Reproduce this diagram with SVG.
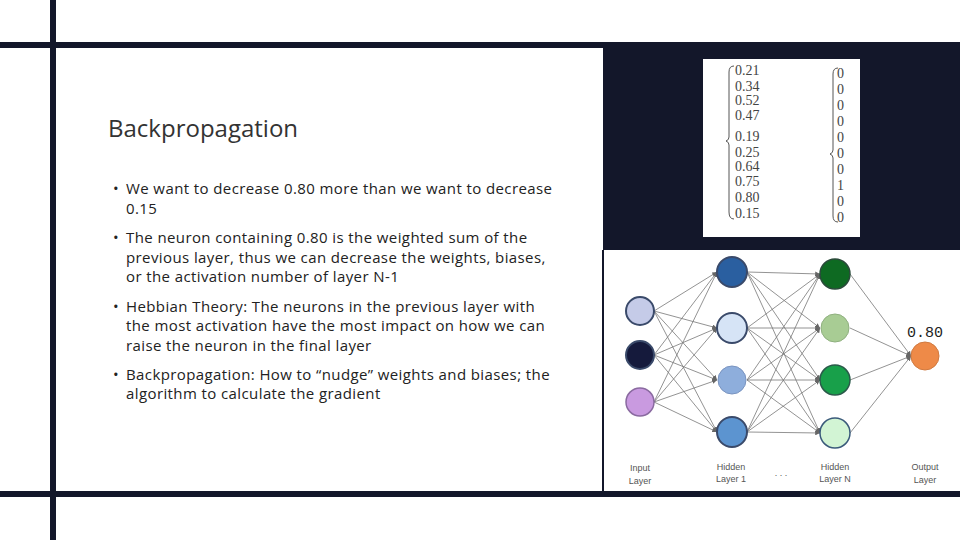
<svg xmlns="http://www.w3.org/2000/svg" width="960" height="540" viewBox="0 0 960 540">
<style>
.t{font-family:"Open Sans","Liberation Sans",sans-serif;font-size:15px;letter-spacing:0.4px;fill:#222}
.m{font-family:"Liberation Serif",serif;font-size:14px;fill:#444}
.l{font-family:"Liberation Sans",sans-serif;font-size:9px;fill:#555;text-anchor:middle}
.c line{stroke:#777;stroke-width:0.8;marker-end:url(#a)}
.n{stroke:#3a4a6a;stroke-width:2}
</style>
<defs><marker id="a" viewBox="0 0 6 6" refX="6" refY="3" markerWidth="6" markerHeight="6" orient="auto"><path d="M0,0L6,3L0,6z" fill="#666"/></marker></defs>
<rect width="960" height="540" fill="#fff"/>
<rect x="603" y="42" width="357" height="208" fill="#13172a"/>
<rect x="0" y="42" width="960" height="6" fill="#13172a"/>
<rect x="0" y="491" width="960" height="6" fill="#13172a"/>
<rect x="50" y="0" width="6" height="540" fill="#13172a"/>
<rect x="602" y="250" width="2" height="242" fill="#13172a"/>
<text x="108" y="137" font-family="'Open Sans','Liberation Sans',sans-serif" font-size="24" fill="#333">Backpropagation</text>
<g class="t">
<text x="113" y="194">•</text><text x="126" y="194">We want to decrease 0.80 more than we want to decrease</text><text x="126" y="214">0.15</text>
<text x="113" y="243">•</text><text x="126" y="243">The neuron containing 0.80 is the weighted sum of the</text><text x="126" y="263">previous layer, thus we can decrease the weights, biases,</text><text x="126" y="282">or the activation number of layer N-1</text>
<text x="113" y="312">•</text><text x="126" y="312">Hebbian Theory: The neurons in the previous layer with</text><text x="126" y="331">the most activation have the most impact on how we can</text><text x="126" y="351">raise the neuron in the final layer</text>
<text x="113" y="380">•</text><text x="126" y="380">Backpropagation: How to “nudge” weights and biases; the</text><text x="126" y="399">algorithm to calculate the gradient</text>
</g>
<g id="matrix">
<rect x="703" y="59" width="157" height="178" fill="#fff"/>
<path d="M734,66 Q729,66 729,72 L729,137 Q729,140 726,141 Q729,142 729,145 L729,212 Q729,219 734,219" fill="none" stroke="#555" stroke-width="1"/>
<path d="M838,68 Q833,68 833,74 L833,150 Q833,153 830,154 Q833,155 833,158 L833,216 Q833,222 838,222" fill="none" stroke="#555" stroke-width="1"/>
<g class="m">
<text x="735" y="75">0.21</text><text x="735" y="91">0.34</text><text x="735" y="105">0.52</text><text x="735" y="120">0.47</text><text x="735" y="141">0.19</text><text x="735" y="157">0.25</text><text x="735" y="171">0.64</text><text x="735" y="186">0.75</text><text x="735" y="202">0.80</text><text x="735" y="218">0.15</text>
<text x="837" y="78">0</text><text x="837" y="94">0</text><text x="837" y="110">0</text><text x="837" y="126">0</text><text x="837" y="142">0</text><text x="837" y="158">0</text><text x="837" y="174">0</text><text x="837" y="190">1</text><text x="837" y="206">0</text><text x="837" y="222">0</text>
</g>
</g>
<g id="connectors" class="c">
<line x1="654" y1="311" x2="717" y2="272"/><line x1="654" y1="311" x2="717" y2="328"/><line x1="654" y1="311" x2="717" y2="380"/><line x1="654" y1="311" x2="717" y2="432"/>
<line x1="654" y1="355" x2="717" y2="272"/><line x1="654" y1="355" x2="717" y2="328"/><line x1="654" y1="355" x2="717" y2="380"/><line x1="654" y1="355" x2="717" y2="432"/>
<line x1="654" y1="402" x2="717" y2="272"/><line x1="654" y1="402" x2="717" y2="328"/><line x1="654" y1="402" x2="717" y2="380"/><line x1="654" y1="402" x2="717" y2="432"/>
<line x1="747" y1="272" x2="820" y2="274"/><line x1="747" y1="272" x2="820" y2="328"/><line x1="747" y1="272" x2="820" y2="380"/><line x1="747" y1="272" x2="820" y2="433"/>
<line x1="747" y1="328" x2="820" y2="274"/><line x1="747" y1="328" x2="820" y2="328"/><line x1="747" y1="328" x2="820" y2="380"/><line x1="747" y1="328" x2="820" y2="433"/>
<line x1="747" y1="380" x2="820" y2="274"/><line x1="747" y1="380" x2="820" y2="328"/><line x1="747" y1="380" x2="820" y2="380"/><line x1="747" y1="380" x2="820" y2="433"/>
<line x1="747" y1="432" x2="820" y2="274"/><line x1="747" y1="432" x2="820" y2="328"/><line x1="747" y1="432" x2="820" y2="380"/><line x1="747" y1="432" x2="820" y2="433"/>
<line x1="850" y1="274" x2="911" y2="356"/><line x1="850" y1="328" x2="911" y2="356"/><line x1="850" y1="380" x2="911" y2="356"/><line x1="850" y1="433" x2="911" y2="356"/>
</g>
<g id="in1"><circle class="n" cx="640" cy="311" r="14" fill="#c5cbe8"/></g>
<g id="in2"><circle class="n" cx="640" cy="355" r="14" fill="#151a3c"/></g>
<g id="in3"><circle cx="640" cy="402" r="14" fill="#c99ae0" stroke="#8a6aa0" stroke-width="1.5"/></g>
<g id="h1a"><circle class="n" cx="732" cy="272" r="15" fill="#2a5fa0"/></g>
<g id="h1b"><circle class="n" cx="732" cy="328" r="15" fill="#d6e4f6"/></g>
<g id="h1c"><circle cx="732" cy="380" r="14" fill="#8eaedc" stroke="#7a94c0"/></g>
<g id="h1d"><circle class="n" cx="732" cy="432" r="15" fill="#5c94d0"/></g>
<g id="hNa"><circle cx="835" cy="274" r="15" fill="#0e6a22" stroke="#2a4a3a" stroke-width="1.5"/></g>
<g id="hNb"><circle cx="835" cy="328" r="14" fill="#a8cc94" stroke="#90b080"/></g>
<g id="hNc"><circle cx="835" cy="380" r="15" fill="#18a04a" stroke="#2a5a4a" stroke-width="1.5"/></g>
<g id="hNd"><circle cx="835" cy="433" r="15" fill="#d2f4d4" stroke="#3a5a7a" stroke-width="1.5"/></g>
<g id="out"><circle cx="925" cy="356" r="14" fill="#ee8a48" stroke="#d07a40"/><text x="925" y="337" font-family="'Liberation Mono',monospace" font-size="15" fill="#222" text-anchor="middle">0.80</text></g>
<g id="labels">
<text class="l" x="640" y="471" fill="#8a6a40">Input</text><text class="l" x="640" y="484">Layer</text>
<text class="l" x="731" y="470">Hidden</text><text class="l" x="731" y="482">Layer 1</text>
<text class="l" x="781" y="476">. . .</text>
<text class="l" x="835" y="470">Hidden</text><text class="l" x="835" y="482">Layer N</text>
<text class="l" x="925" y="470">Output</text><text class="l" x="925" y="483">Layer</text>
</g>
</svg>
